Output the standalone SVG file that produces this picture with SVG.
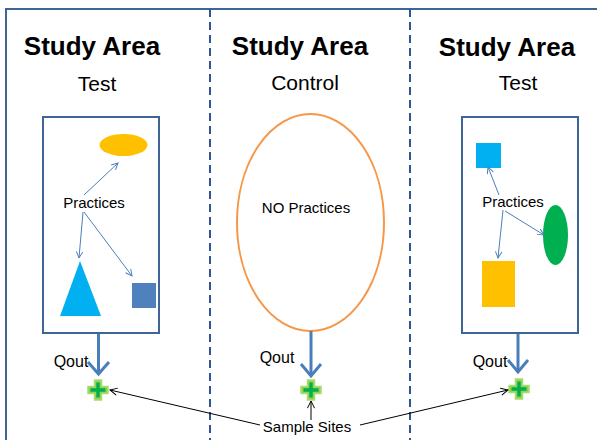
<svg xmlns="http://www.w3.org/2000/svg" width="597" height="440" viewBox="0 0 597 440">
<style>
.t{font-family:"Liberation Sans",Arial,sans-serif;fill:#000}
.h{font-size:26px;font-weight:bold}
.s{font-size:21px}
.l{font-size:15px}
.qt{font-size:16px}
.box{fill:#fff;stroke:#3F6596;stroke-width:2}
.thin{fill:none;stroke:#4A7EBB;stroke-width:1}
.q{fill:none;stroke:#4A7EBB;stroke-width:3}
.blk{fill:none;stroke:#000;stroke-width:1}
</style>
<defs>
<marker id="ab" viewBox="0 0 10 10" refX="9" refY="5" markerWidth="8" markerHeight="8" orient="auto" markerUnits="userSpaceOnUse">
<path d="M1,1 L9,5 L1,9" fill="none" stroke="#4A7EBB" stroke-width="1.2"/>
</marker>
<marker id="ak" viewBox="0 0 10 10" refX="9" refY="5" markerWidth="9" markerHeight="9" orient="auto" markerUnits="userSpaceOnUse">
<path d="M1,1 L9,5 L1,9" fill="none" stroke="#000" stroke-width="1.1"/>
</marker>
<g id="cross">
<path d="M-3.5,-10 h7 v6.5 h6.5 v7 h-6.5 v6.5 h-7 v-6.5 h-6.5 v-7 h6.5 z" fill="#92D050" stroke="#A9DC6E" stroke-width="1.5"/>
<path d="M-1.7,-7.5 h3.4 v5.8 h5.8 v3.4 h-5.8 v5.8 h-3.4 v-5.8 h-5.8 v-3.4 h5.8 z" fill="#00B050"/>
</g>
</defs>
<rect width="597" height="440" fill="#fff"/>
<g id="frame">
<path d="M6,440 V9 H597" fill="none" stroke="#3F6596" stroke-width="2"/>
<line x1="210" y1="9" x2="210" y2="440" stroke="#2F5597" stroke-width="2" stroke-dasharray="8,5"/>
<line x1="410" y1="9" x2="410" y2="440" stroke="#2F5597" stroke-width="2" stroke-dasharray="8,5"/>
</g>
<g id="area1">
<text class="t h" x="92" y="55" text-anchor="middle">Study Area</text>
<text class="t s" x="97" y="91" text-anchor="middle">Test</text>
<rect class="box" x="43" y="117" width="116" height="216"/>
<ellipse cx="123.5" cy="145" rx="24" ry="11" fill="#FFC000"/>
<polygon points="80,261 60,316 101,316" fill="#00B0F0"/>
<rect x="132" y="283" width="24" height="25" fill="#4F81BD"/>
<text class="t l" x="94" y="208" text-anchor="middle">Practices</text>
</g>
<g id="area2">
<text class="t h" x="300" y="55" text-anchor="middle">Study Area</text>
<text class="t s" x="305" y="90" text-anchor="middle">Control</text>
<ellipse cx="310.5" cy="222.5" rx="73.5" ry="108.5" fill="#fff" stroke="#F79646" stroke-width="2"/>
<text class="t l" x="306" y="213" text-anchor="middle">NO Practices</text>
</g>
<g id="area3">
<text class="t h" x="507" y="56" text-anchor="middle">Study Area</text>
<text class="t s" x="518" y="90" text-anchor="middle">Test</text>
<rect class="box" x="462" y="117" width="116" height="216"/>
<rect x="476" y="143" width="25" height="25" fill="#00B0F0"/>
<ellipse cx="555.5" cy="235" rx="12.5" ry="30" fill="#00B050"/>
<rect x="482" y="261" width="33" height="46" fill="#FFC000"/>
<text class="t l" x="513" y="207" text-anchor="middle">Practices</text>
</g>
<g id="sites">
<use href="#cross" x="98" y="390"/>
<use href="#cross" x="311" y="390"/>
<use href="#cross" x="519" y="389"/>
<text class="t l" x="307" y="432" text-anchor="middle">Sample Sites</text>
<text class="t qt" x="71" y="367" text-anchor="middle">Qout</text>
<text class="t qt" x="277" y="363" text-anchor="middle">Qout</text>
<text class="t qt" x="490" y="367" text-anchor="middle">Qout</text>
</g>
<g id="connectors">
<line class="thin" x1="84" y1="195" x2="118" y2="163" marker-end="url(#ab)"/>
<line class="thin" x1="83" y1="212" x2="79" y2="258" marker-end="url(#ab)"/>
<line class="thin" x1="84" y1="212" x2="132" y2="276" marker-end="url(#ab)"/>
<line class="thin" x1="499" y1="195" x2="488" y2="167" marker-end="url(#ab)"/>
<line class="thin" x1="503" y1="210" x2="498" y2="258" marker-end="url(#ab)"/>
<line class="thin" x1="505" y1="211" x2="544" y2="235" marker-end="url(#ab)"/>
<line class="q" x1="98.5" y1="334" x2="98.5" y2="374"/>
<path class="q" d="M88,362 L98.5,374 L109,362"/>
<line class="q" x1="311" y1="331" x2="311" y2="376"/>
<path class="q" d="M301,364 L311,376 L321,364"/>
<line class="q" x1="518" y1="334" x2="518" y2="372"/>
<path class="q" d="M508,360 L518,372 L528,360"/>
<line class="blk" x1="260" y1="425" x2="110" y2="390" marker-end="url(#ak)"/>
<line class="blk" x1="360" y1="425" x2="508" y2="390" marker-end="url(#ak)"/>
<line class="blk" x1="311" y1="420" x2="311" y2="401" marker-end="url(#ak)"/>
</g>
</svg>
